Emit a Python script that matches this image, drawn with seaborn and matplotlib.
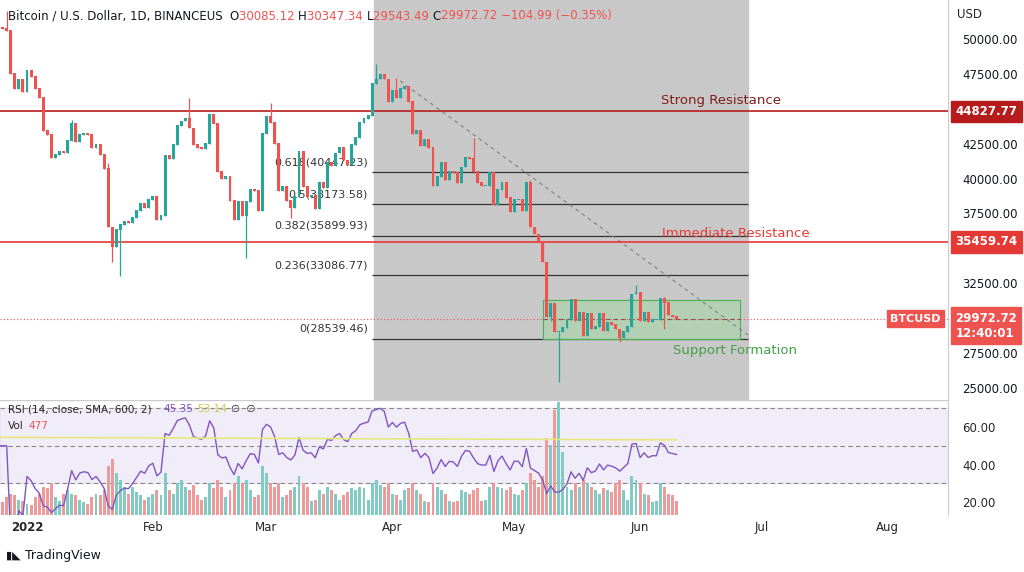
import numpy as np
import pandas as pd
import seaborn as sns
import matplotlib.pyplot as plt

# daily closes (thousands USD), starting 2021-12-25
closes = [50.8, 50.7, 50.6, 47.5, 46.4, 47.1, 46.2,
          47.7, 47.3, 46.4, 45.8, 43.4, 43.1, 41.5, 41.7, 41.9, 41.8, 42.7, 43.9, 42.6, 43.1, 43.2, 43.1,
          42.2, 42.4, 41.7, 40.7, 36.5, 35.1, 36.3, 36.7, 36.9, 36.8, 37.2, 37.7, 38.2, 37.9, 38.5,
          38.7, 37.0, 37.3, 41.6, 41.4, 42.4, 43.8, 44.1, 44.3, 43.6, 42.4, 42.2, 42.1, 42.5, 44.6, 43.9,
          40.5, 40.0, 40.1, 38.4, 37.0, 38.3, 37.3, 38.3, 39.2, 39.1, 37.7, 43.2,
          44.4, 44.0, 42.5, 39.1, 39.4, 38.4, 37.9, 38.7, 41.9, 39.4, 38.7, 38.8, 37.8, 39.7, 39.3, 41.1,
          40.9, 41.8, 42.2, 41.3, 41.0, 42.4, 42.9, 44.0, 44.3, 44.5, 46.8, 47.1, 47.4, 47.1, 45.5,
          46.3, 45.8, 46.4, 46.6, 45.5, 43.2, 43.4, 42.3, 42.8, 42.2, 39.5, 40.1, 41.1, 39.9, 40.5, 40.4,
          39.7, 40.8, 41.5, 41.4, 40.5, 39.7, 39.5, 39.5, 40.4, 38.1, 39.2, 39.7, 38.6, 37.6,
          38.5, 38.5, 37.7, 39.7, 36.5, 36.0, 35.5, 34.0, 30.1, 31.0, 29.0, 29.0, 29.3, 29.9, 31.3, 29.8,
          30.4, 28.7, 30.3, 29.2, 29.4, 30.3, 29.1, 29.7, 29.5, 29.2, 28.6, 29.0, 29.4, 31.7, 31.8,
          29.8, 30.4, 29.7, 29.9, 29.9, 31.4, 31.1, 30.2, 30.1, 29.97]
# notable wicks (thousands USD), by date
wick_highs = {"2021-12-27": 52.0, "2022-01-21": 41.1, "2022-02-10": 45.8, "2022-02-16": 44.2,
              "2022-03-02": 45.4, "2022-03-28": 48.2, "2022-04-02": 47.2, "2022-04-21": 42.9,
              "2022-05-05": 39.9, "2022-05-31": 32.4, "2022-06-07": 31.5, "2022-01-12": 44.2}
wick_lows = {"2022-01-24": 33.0, "2022-02-24": 34.3, "2022-05-12": 25.4, "2022-05-10": 29.8,
             "2022-05-27": 28.3, "2022-03-07": 37.2, "2022-01-22": 34.0, "2022-06-07": 29.2}
# volume (thousands BTC)
volumes = [20, 18, 25, 30, 28, 22, 20,
           15, 14, 25, 30, 40, 38, 45, 25, 20, 30, 35, 30, 28, 22, 18, 15,
           25, 30, 28, 35, 70, 80, 60, 50, 40, 30, 40, 32, 28, 22, 25,
           30, 35, 28, 60, 35, 30, 45, 50, 40, 35, 42, 28, 22, 25, 45, 38,
           50, 40, 25, 35, 45, 55, 45, 50, 35, 25, 28, 70,
           60, 45, 40, 45, 25, 28, 35, 40, 55, 45, 40, 20, 22, 35, 30, 40,
           35, 30, 22, 28, 32, 38, 35, 40, 38, 22, 45, 50, 42, 40, 45,
           30, 28, 22, 35, 38, 45, 35, 30, 20, 18, 45, 40, 35, 30, 20, 18,
           20, 35, 32, 30, 35, 38, 20, 22, 40, 45, 40, 38, 35, 40,
           30, 28, 35, 45, 60, 50, 40, 55, 110, 100, 150, 160, 90, 40, 35, 45,
           40, 50, 45, 40, 35, 30, 38, 35, 33, 45, 50, 35, 22, 55, 50,
           45, 30, 28, 18, 20, 45, 40, 30, 28, 20]
rsi_sma_vals = [54.5, 53.14]

fib_labels = ["0.618(40447.23)", "0.5(38173.58)", "0.382(35899.93)", "0.236(33086.77)", "0(28539.46)"]
fib_levels = [40447.23, 38173.58, 35899.93, 33086.77, 28539.46]
strong_res = 44827.77
immediate_res = 35459.74
last_price = 29972.72
price_ticks = [25000, 27500, 32500, 37500, 40000, 42500, 47500, 50000]
month_labels = ["2022", "Feb", "Mar", "Apr", "May", "Jun", "Jul", "Aug"]
rsi_ticks = [20, 40, 60]

GREEN, RED = "#26a69a", "#ef5350"

dates = pd.date_range("2021-12-25", periods=len(closes), freq="D")
day = (dates - pd.Timestamp("2022-01-01")).days.values
c = np.array(closes) * 1000
o = np.r_[50.4 * 1000, c[:-1]]
hi = np.maximum(o, c)
lo = np.minimum(o, c)
for k, v in wick_highs.items():
    hi[dates.get_loc(pd.Timestamp(k))] = v * 1000
for k, v in wick_lows.items():
    lo[dates.get_loc(pd.Timestamp(k))] = v * 1000
up = c >= o
cols = np.where(up, GREEN, RED)

# RSI(14) from closes
d = np.diff(c, prepend=c[0])
gain = pd.Series(np.clip(d, 0, None)).ewm(alpha=1 / 14, adjust=False).mean()
loss = pd.Series(np.clip(-d, 0, None)).ewm(alpha=1 / 14, adjust=False).mean()
rsi = (100 - 100 / (1 + gain / loss.replace(0, 1e-9))).values
rsi[:3] = 50
df_rsi = pd.DataFrame({"day": day, "rsi": rsi})

sns.set_style("white")
plt.rcParams["font.family"] = "DejaVu Sans"
fig = plt.figure(figsize=(10.24, 5.72), dpi=100)
W, H = 1024, 572
ax = fig.add_axes([0, 1 - 400 / H, 948 / W, 400 / H])
ax2 = fig.add_axes([0, 1 - 515 / H, 948 / W, 115 / H])

x0 = lambda px: (px - 27) / 4.06
xlim = (x0(0), x0(948))
ax.set_xlim(*xlim)
ax.set_ylim(24140, 52794)
ax2.set_xlim(*xlim)
ax2.set_ylim(13.07, 74.4)

# grey fib box
ax.axvspan(day[dates.get_loc(pd.Timestamp("2022-03-28"))] - 0.5, x0(748), color="#c8c8c8", zorder=0)
fx1, fx2 = x0(372), x0(748)
for lab, lv in zip(fib_labels, fib_levels):
    ax.hlines(lv, fx1, fx2, color="#333333", lw=0.9, zorder=1)
    ax.text(fx1 - 1, lv + 350, lab, ha="right", va="bottom", fontsize=8, color="#333333")
# support rectangle
ax.fill_between([x0(543), x0(740)], 28539, 31300, color="#a5d6a7", alpha=0.6, zorder=1)
ax.plot([x0(543), x0(740), x0(740), x0(543), x0(543)], [28539, 28539, 31300, 31300, 28539],
        color="#4caf50", lw=0.8, zorder=1)
ax.hlines((28539 + 31300) / 2, x0(543), x0(740), color="#555555", lw=0.8, ls=(0, (4, 3)), zorder=1)
ax.text(x0(673), 27700, "Support Formation", color="#43a047", fontsize=9.5, va="center")
# trend line
ax.plot([x0(400), x0(748)], [47000, 28800], color="#888888", lw=0.9, ls=(0, (3, 3)), zorder=1)
# resistances
ax.axhline(strong_res, color="#b71c1c", lw=1.2, zorder=2)
ax.text(x0(661), strong_res + 300, "Strong Resistance", color="#7f1d1d", fontsize=9.5, va="bottom")
ax.axhline(immediate_res, color="#e53935", lw=1.2, zorder=2)
ax.text(x0(662), immediate_res + 150, "Immediate Resistance", color="#e53935", fontsize=9.5, va="bottom")
ax.axhline(last_price, color=RED, lw=0.8, ls=(0, (1, 2)), zorder=2)

# candles
ax.vlines(day, lo, hi, color=cols, lw=0.9, zorder=3)
ax.bar(day, np.abs(c - o) + 60, bottom=np.minimum(o, c), width=0.72, color=cols, lw=0, zorder=4)

# price axis
ax.yaxis.tick_right()
ax.set_yticks(price_ticks)
ax.set_yticklabels([f"{t:.2f}" for t in price_ticks])
ax.tick_params(axis="y", length=0, pad=10, labelsize=8.5, colors="#131722")
ax.set_xticks([])
for s in ["top", "left", "bottom"]:
    ax.spines[s].set_visible(False)
ax.spines["right"].set_color("#cccccc")
ax.text(1.01, 1 - 14 / 400, "USD", transform=ax.transAxes, fontsize=8.5, va="center")
for val, fc in [(strong_res, "#b71c1c"), (immediate_res, "#e53935")]:
    ax.text(1.008, val, f"{val:.2f}", transform=ax.get_yaxis_transform(), va="center", fontsize=8.5,
            color="white", fontweight="bold", bbox=dict(boxstyle="square,pad=0.35", fc=fc, ec=fc))
ax.text(1.008, last_price - 500, f"{last_price:.2f}\n12:40:01", transform=ax.get_yaxis_transform(),
        va="center", fontsize=8.5, color="white", fontweight="bold",
        bbox=dict(boxstyle="square,pad=0.35", fc=RED, ec=RED))
ax.text(0.992, last_price, "BTCUSD", transform=ax.get_yaxis_transform(), va="center", ha="right",
        fontsize=8, color="white", fontweight="bold", bbox=dict(boxstyle="square,pad=0.3", fc=RED, ec=RED))

# header
hx, hy = 0.008, 1 - 16 / 400
parts = [("Bitcoin / U.S. Dollar, 1D, BINANCEUS  ", "#131722"), ("O", "#131722"), ("30085.12 ", RED),
         ("H", "#131722"), ("30347.34 ", RED), ("L", "#131722"), ("29543.49 ", RED),
         ("C", "#131722"), ("29972.72 −104.99 (−0.35%)", RED)]
t = None
for txt, col in parts:
    if t is None:
        t = ax.text(hx, hy, txt, transform=ax.transAxes, fontsize=8.5, color=col, va="center")
    else:
        t = ax.annotate(txt, xycoords=t, xy=(1, 0), va="bottom", fontsize=8.5, color=col)

# RSI / volume panel
ax2.axhspan(30, 70, color="#7e57c2", alpha=0.1, zorder=0)
for lv in [70, 50, 30]:
    ax2.axhline(lv, color="#888888", lw=0.8, ls=(0, (4, 3)), zorder=1)
vscale = 60 / max(volumes)
ax2.bar(day, np.array(volumes) * vscale, bottom=13.07, width=0.72, lw=0,
        color=np.where(up, "#80cbc4", "#ef9a9a"), zorder=2)
sns.lineplot(data=df_rsi, x="day", y="rsi", ax=ax2, color="#7e57c2", lw=1, zorder=3)
ax2.plot([day[0], day[-1]], rsi_sma_vals, color="#e6e97a", lw=1.2, zorder=3)
ax2.yaxis.tick_right()
ax2.set_yticks(rsi_ticks)
ax2.set_yticklabels([f"{t:.2f}" for t in rsi_ticks])
ax2.tick_params(axis="y", length=0, pad=10, labelsize=8.5)
ax2.set_xlabel("")
ax2.set_ylabel("")
ax2.set_xticks([0, 31, 59, 90, 120, 151, 181, 212])
ax2.set_xticklabels(month_labels)
ax2.tick_params(axis="x", length=0, labelsize=8.5, pad=4)
ax2.get_xticklabels()[0].set_fontweight("bold")
for s in ["top", "left", "bottom"]:
    ax2.spines[s].set_visible(False)
ax2.spines["right"].set_color("#cccccc")
ax2.axhline(74.4, color="#cccccc", lw=1)
ax2.text(0.008, 0.92, "RSI (14, close, SMA, 600, 2)", transform=ax2.transAxes, fontsize=7.5, va="center")
ax2.text(0.172, 0.92, "45.35", transform=ax2.transAxes, fontsize=7.5, color="#7e57c2", va="center")
ax2.text(0.208, 0.92, "53.14", transform=ax2.transAxes, fontsize=7.5, color="#c6c94a", va="center")
ax2.text(0.244, 0.92, "∅  ∅", transform=ax2.transAxes, fontsize=7.5, va="center")
ax2.text(0.008, 0.77, "Vol", transform=ax2.transAxes, fontsize=7.5, va="center")
ax2.text(0.03, 0.77, "477", transform=ax2.transAxes, fontsize=7.5, color=RED, va="center")

fig.text(25 / W, 1 - 556 / H, "TradingView", fontsize=9, color="#131722", va="center")
fig.text(6 / W, 1 - 556 / H, "▮◣", fontsize=8, color="#131722", va="center")
fig.savefig("out.png", dpi=100)
